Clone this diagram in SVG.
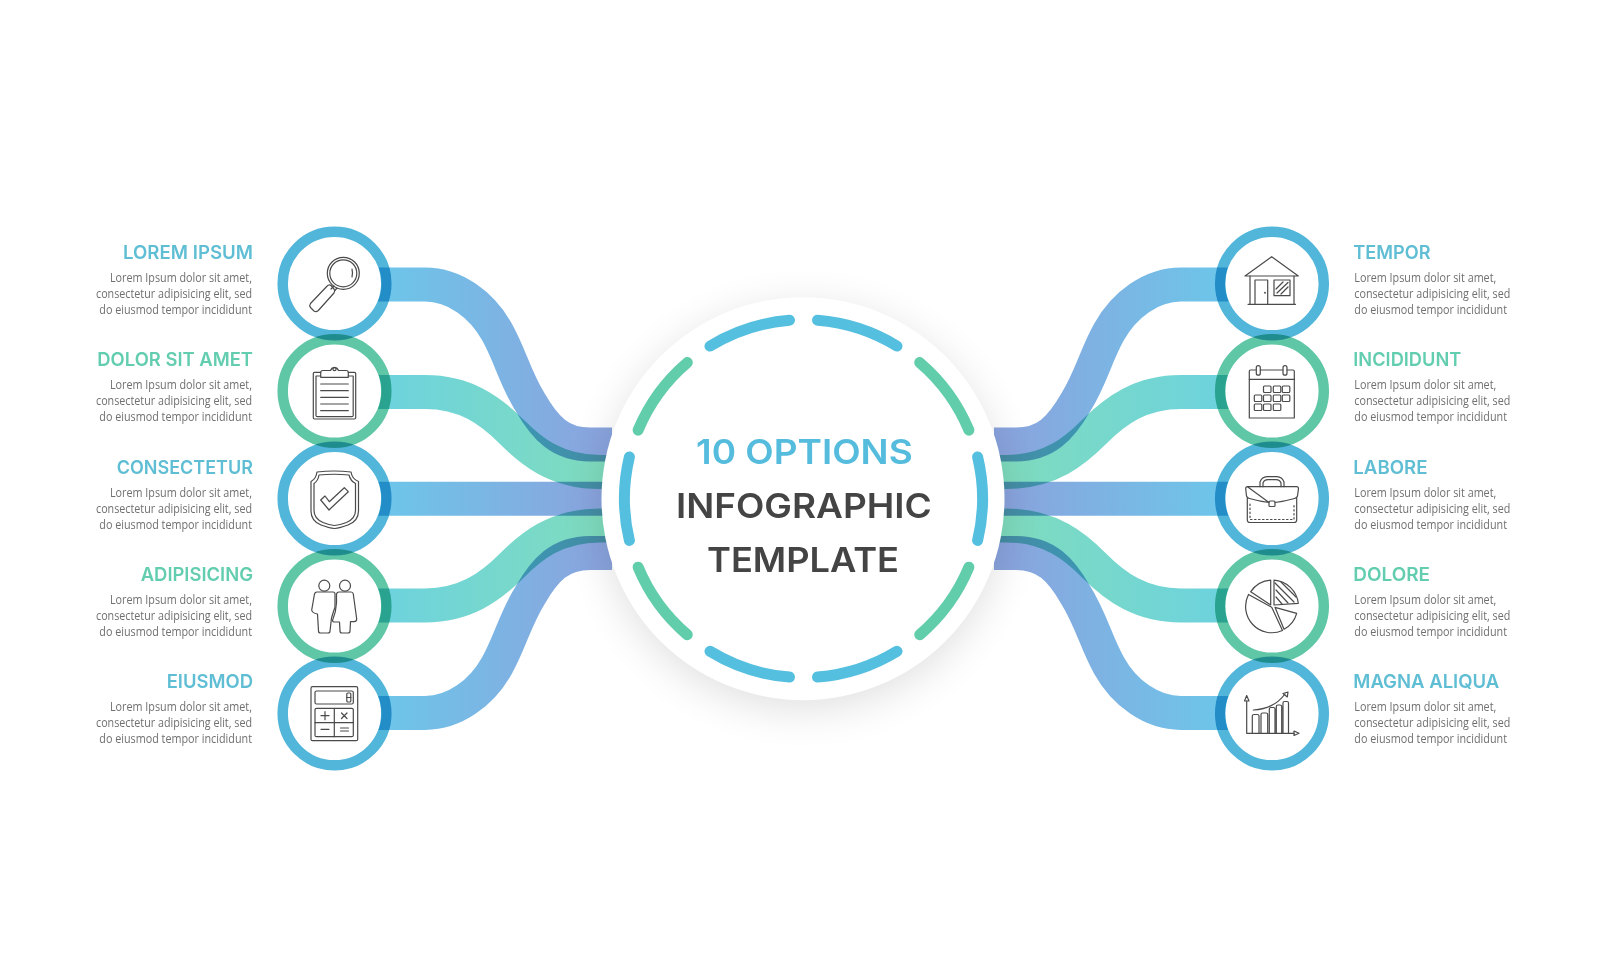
<svg xmlns="http://www.w3.org/2000/svg" width="1604" height="980" viewBox="0 0 1604 980">
<style>
.band{fill:none;stroke-width:34;mix-blend-mode:multiply}
.disc{fill:#fff}
.rb{fill:none;stroke:#52b6da;stroke-width:10.5;mix-blend-mode:multiply}
.rg{fill:none;stroke:#5fc6a6;stroke-width:10.5;mix-blend-mode:multiply}
.ic{fill:none;stroke:#4a4a4a;stroke-width:1.2;stroke-linejoin:round;stroke-linecap:round}
.seg{fill:none;stroke-width:11;stroke-linecap:round}
.tb{font:600 19px Inter,"Liberation Sans",sans-serif;fill:#5fbed4}
.tg{font:600 19px Inter,"Liberation Sans",sans-serif;fill:#63cdb0}
.bd{font:12px "Open Sans","Liberation Sans",sans-serif;fill:#6f6f6f}
.c{font:600 34.4px Inter,"Liberation Sans",sans-serif}
.e{text-anchor:end}
</style>
<defs>
<linearGradient id="gb" gradientUnits="userSpaceOnUse" x1="380" y1="0" x2="600" y2="0"><stop offset="0" stop-color="#6cc6ea"/><stop offset="1" stop-color="#8aa4de"/></linearGradient>
<linearGradient id="gg" gradientUnits="userSpaceOnUse" x1="380" y1="0" x2="600" y2="0"><stop offset="0" stop-color="#6dd2de"/><stop offset="1" stop-color="#7fdcbe"/></linearGradient>
<filter id="sh" x="-30%" y="-30%" width="160%" height="160%"><feGaussianBlur stdDeviation="22"/></filter>
<g id="upper">
<path class="band" stroke="url(#gb)" d="M372 284.5H425C455 284.5 482 305 497 332C510 355 515 378 530 402C545 428 560 444.5 590 444.5H612"/>
<path class="band" stroke="url(#gg)" d="M372 392H425C465 392 490 410 512 432C530 450 555 472 600 472H612"/>
</g>
<g id="bands">
<use href="#upper"/>
<path class="band" stroke="url(#gb)" d="M372 498.7H612"/>
<use href="#upper" transform="matrix(1 0 0 -1 0 997.4)"/>
</g>
</defs>
<rect width="1604" height="980" fill="#fff"/>
<g id="connectors">
<use href="#bands"/>
<use href="#bands" transform="matrix(-1 0 0 1 1606 0)"/>
</g>
<g id="center">
<circle cx="803" cy="508" r="200" fill="#000" opacity=".13" filter="url(#sh)"/>
<circle cx="803" cy="498.7" r="201.5" fill="#fff"/>
<g class="seg" stroke="#55bfdf">
<path d="M817.5 320.3A179 179 0 0 1 897 346.1"/>
<path d="M977.6 456.9A179 179 0 0 1 977.6 540.5"/>
<path d="M897 651.3A179 179 0 0 1 817.5 677.1"/>
<path d="M789.5 677.1A179 179 0 0 1 710 651.3"/>
<path d="M629.4 540.5A179 179 0 0 1 629.4 456.9"/>
<path d="M710 346.1A179 179 0 0 1 789.5 320.3"/>
</g>
<g class="seg" stroke="#62cdab">
<path d="M919.7 362.6A179 179 0 0 1 968.9 430.2"/>
<path d="M968.9 567.2A179 179 0 0 1 919.7 634.8"/>
<path d="M687.3 634.8A179 179 0 0 1 638.1 567.2"/>
<path d="M638.1 430.2A179 179 0 0 1 687.3 362.6"/>
</g>
<text class="c" x="696" y="464" fill="#55bcdd" textLength="216.7" lengthAdjust="spacingAndGlyphs">10 OPTIONS</text>
<text class="c" x="676" y="518.3" fill="#444" textLength="255.7" lengthAdjust="spacingAndGlyphs">INFOGRAPHIC</text>
<text class="c" x="707" y="572.3" fill="#444" textLength="192" lengthAdjust="spacingAndGlyphs">TEMPLATE</text>
</g>
<g id="node-lorem-ipsum">
<circle class="disc" cx="334.5" cy="283.5" r="47"/><circle class="rb" cx="334.5" cy="283.5" r="51.8"/>
<g class="ic"><circle cx="343.3" cy="273.3" r="16"/><circle cx="343.3" cy="273.3" r="13.5"/><path d="M352 269Q353 273 352 277"/><path d="M334 286L331 289M337 288L334.5 291M326.7 286.5Q329 284 331 285.5L334 289Q335.5 291 334 293L318.3 310.5Q316 312.5 314 311L310.5 307.5Q309 305.5 310.5 303.5Z"/></g>
<text class="tb e" x="253" y="258.8" textLength="130" lengthAdjust="spacingAndGlyphs">LOREM IPSUM</text>
<text class="bd e" x="252" y="281.7" textLength="142" lengthAdjust="spacingAndGlyphs">Lorem Ipsum dolor sit amet,</text>
<text class="bd e" x="252" y="297.7" textLength="156" lengthAdjust="spacingAndGlyphs">consectetur adipisicing elit, sed</text>
<text class="bd e" x="252" y="313.7" textLength="152.7" lengthAdjust="spacingAndGlyphs">do eiusmod tempor incididunt</text>
</g>
<g id="node-dolor-sit-amet">
<circle class="disc" cx="334.5" cy="391" r="47"/><circle class="rg" cx="334.5" cy="391" r="51.8"/>
<g class="ic"><path d="M320.7 372.3H314.5Q313.3 372.3 313.3 373.5V417.8Q313.3 419 314.5 419H354.5Q355.7 419 355.7 417.8V373.5Q355.7 372.3 354.5 372.3H348.3"/><path d="M320.7 376H316V415.5Q316 416.7 317.2 416.7H352Q353.2 416.7 353.2 415.5V376H348.3"/><path d="M320.7 377.3V372.5Q320.7 370.5 322.7 370.5H330.5A4.2 4.2 0 0 1 338.5 370.5H346.3Q348.3 370.5 348.3 372.5V377.3Z"/><circle cx="334.5" cy="369" r="1.6"/><path d="M320.7 384H348.3M320.7 390.7H348.3M320.7 397.3H348.3M320.7 404H348.3M320.7 410.7H348.3"/></g>
<text class="tg e" x="253" y="366.2" textLength="155.7" lengthAdjust="spacingAndGlyphs">DOLOR SIT AMET</text>
<text class="bd e" x="252" y="389.1" textLength="142" lengthAdjust="spacingAndGlyphs">Lorem Ipsum dolor sit amet,</text>
<text class="bd e" x="252" y="405.1" textLength="156" lengthAdjust="spacingAndGlyphs">consectetur adipisicing elit, sed</text>
<text class="bd e" x="252" y="421.1" textLength="152.7" lengthAdjust="spacingAndGlyphs">do eiusmod tempor incididunt</text>
</g>
<g id="node-consectetur">
<circle class="disc" cx="334.5" cy="498.5" r="47"/><circle class="rb" cx="334.5" cy="498.5" r="51.8"/>
<g class="ic"><path d="M317 472Q334 470 351 472Q352 479 358.5 481.5V511Q358.5 521 348 525Q340 528 334.5 528.5Q329 528 321 525Q311 521 311 511V481.5Q316 479 317 472Z"/><path d="M319 475Q334 473.5 349 475Q350.5 481 355.5 483.5V510.5Q355.5 518.5 346.5 522.5Q340 525 334.5 525.5Q329 525 323 522.5Q314 518.5 314 510.5V483.5Q318 481 319 475Z"/><path d="M320.7 500L329 510L348.3 491.7L344.3 487.7L329.3 501.7L325 496Z"/></g>
<text class="tb e" x="253" y="473.6" textLength="136.3" lengthAdjust="spacingAndGlyphs">CONSECTETUR</text>
<text class="bd e" x="252" y="496.5" textLength="142" lengthAdjust="spacingAndGlyphs">Lorem Ipsum dolor sit amet,</text>
<text class="bd e" x="252" y="512.5" textLength="156" lengthAdjust="spacingAndGlyphs">consectetur adipisicing elit, sed</text>
<text class="bd e" x="252" y="528.5" textLength="152.7" lengthAdjust="spacingAndGlyphs">do eiusmod tempor incididunt</text>
</g>
<g id="node-adipisicing">
<circle class="disc" cx="334.5" cy="606" r="47"/><circle class="rg" cx="334.5" cy="606" r="51.8"/>
<g class="ic"><circle cx="324.3" cy="585.7" r="5.5"/><circle cx="345" cy="585.7" r="5.5"/><path d="M317 592H333Q335 592 335 594V607Q333 613 331.5 618L330 631Q330 633 328 633H320.5Q318.5 633 318.5 631L317.5 614Q312 613 311.7 610L314.5 594Q315 592 317 592Z"/><path d="M339 592H351Q353 592 353.3 594L356.7 619Q356.7 621.7 354 621.7L350.5 621.7L350 631Q350 633 348 633H342Q340 633 340 631L339.5 622H334Q332 621.7 332.8 619.5Q336 612 336.5 603V594Q337 592 339 592Z"/></g>
<text class="tg e" x="253" y="581" textLength="112.3" lengthAdjust="spacingAndGlyphs">ADIPISICING</text>
<text class="bd e" x="252" y="603.9" textLength="142" lengthAdjust="spacingAndGlyphs">Lorem Ipsum dolor sit amet,</text>
<text class="bd e" x="252" y="619.9" textLength="156" lengthAdjust="spacingAndGlyphs">consectetur adipisicing elit, sed</text>
<text class="bd e" x="252" y="635.9" textLength="152.7" lengthAdjust="spacingAndGlyphs">do eiusmod tempor incididunt</text>
</g>
<g id="node-eiusmod">
<circle class="disc" cx="334.5" cy="713.5" r="47"/><circle class="rb" cx="334.5" cy="713.5" r="51.8"/>
<g class="ic"><rect x="311" y="686.7" width="46.7" height="54" rx="1.5"/><rect x="315" y="691" width="38.3" height="13" rx="1.5"/><rect x="346.8" y="693" width="4" height="9" rx="1"/><path d="M346.8 697.5H350.8"/><rect x="315" y="708.3" width="38.3" height="28.4" rx="1.5"/><path d="M334.3 708.3V736.7M315 722.7H353.3M321 715.7H329M325 711.7V719.7M341.5 713L347 718.5M347 713L341.5 718.5M321 729.3H329M340.5 728H348.5M340.5 731H348.5"/></g>
<text class="tb e" x="253" y="688.4" textLength="86.3" lengthAdjust="spacingAndGlyphs">EIUSMOD</text>
<text class="bd e" x="252" y="711.3" textLength="142" lengthAdjust="spacingAndGlyphs">Lorem Ipsum dolor sit amet,</text>
<text class="bd e" x="252" y="727.3" textLength="156" lengthAdjust="spacingAndGlyphs">consectetur adipisicing elit, sed</text>
<text class="bd e" x="252" y="743.3" textLength="152.7" lengthAdjust="spacingAndGlyphs">do eiusmod tempor incididunt</text>
</g>
<g id="node-tempor">
<circle class="disc" cx="1272" cy="283.5" r="47"/><circle class="rb" cx="1272" cy="283.5" r="51.8"/>
<g class="ic"><path d="M1245 276L1271.7 256.7L1298.3 276Z"/><path d="M1250 276V304.3M1294 276V304.3M1248 304.3H1295.5"/><path d="M1255 304.3V280H1267.7V304.3"/><circle cx="1265" cy="292.7" r=".4"/><rect x="1274" y="280" width="16" height="15.7"/><path d="M1276 289L1283 282M1277 293L1288 282.5M1281 294L1288 287"/></g>
<text class="tb" x="1353.3" y="258.8" textLength="77.3" lengthAdjust="spacingAndGlyphs">TEMPOR</text>
<text class="bd" x="1354.3" y="281.7" textLength="142" lengthAdjust="spacingAndGlyphs">Lorem Ipsum dolor sit amet,</text>
<text class="bd" x="1354.3" y="297.7" textLength="156" lengthAdjust="spacingAndGlyphs">consectetur adipisicing elit, sed</text>
<text class="bd" x="1354.3" y="313.7" textLength="152.7" lengthAdjust="spacingAndGlyphs">do eiusmod tempor incididunt</text>
</g>
<g id="node-incididunt">
<circle class="disc" cx="1272" cy="391" r="47"/><circle class="rg" cx="1272" cy="391" r="51.8"/>
<g class="ic"><path d="M1256.3 370H1250.5Q1249.3 370 1249.3 371.2V418H1294.3V371.2Q1294.3 370 1293 370H1287M1260.3 370H1283"/><path d="M1249.3 379.3H1294.3"/><rect x="1256.3" y="365.7" width="4" height="9.5" rx="2"/><rect x="1283" y="365.7" width="4" height="9.5" rx="2"/><rect x="1263.5" y="386" width="7.5" height="6.5" rx="1"/><rect x="1273.3" y="386" width="7.5" height="6.5" rx="1"/><rect x="1282.3" y="386" width="7.5" height="6.5" rx="1"/><rect x="1254.3" y="395" width="7.5" height="6.5" rx="1"/><rect x="1263.5" y="395" width="7.5" height="6.5" rx="1"/><rect x="1273.3" y="395" width="7.5" height="6.5" rx="1"/><rect x="1282.3" y="395" width="7.5" height="6.5" rx="1"/><rect x="1254.3" y="404" width="7.5" height="6.5" rx="1"/><rect x="1263.5" y="404" width="7.5" height="6.5" rx="1"/><rect x="1273.3" y="404" width="7.5" height="6.5" rx="1"/></g>
<text class="tg" x="1353.3" y="366.2" textLength="108" lengthAdjust="spacingAndGlyphs">INCIDIDUNT</text>
<text class="bd" x="1354.3" y="389.1" textLength="142" lengthAdjust="spacingAndGlyphs">Lorem Ipsum dolor sit amet,</text>
<text class="bd" x="1354.3" y="405.1" textLength="156" lengthAdjust="spacingAndGlyphs">consectetur adipisicing elit, sed</text>
<text class="bd" x="1354.3" y="421.1" textLength="152.7" lengthAdjust="spacingAndGlyphs">do eiusmod tempor incididunt</text>
</g>
<g id="node-labore">
<circle class="disc" cx="1272" cy="498.5" r="47"/><circle class="rb" cx="1272" cy="498.5" r="51.8"/>
<g class="ic"><path d="M1260 486.7V482Q1262 477 1267 476.7H1277Q1282 477 1284 482V486.7M1263 486.7V483Q1264 480 1268 479.7H1276Q1280 480 1281 483V486.7"/><path d="M1247.5 486.7H1296.5Q1298.5 486.7 1298.5 488.7L1297.5 496Q1297 498 1294.5 498.5Q1284 501.5 1275 502.5M1269 502.5Q1260 501.5 1249.5 498.5Q1247 498 1246.5 496L1245.7 488.7Q1245.7 486.7 1247.5 486.7Z"/><path d="M1247.3 498V520Q1247.3 522.5 1250 522.5H1294Q1296.7 522.5 1296.7 520V498"/><rect x="1269" y="501" width="6" height="5.5" rx="1"/><path d="M1250 504V519.5H1294V504" stroke-dasharray="1.5 2.5"/></g>
<text class="tb" x="1353.3" y="473.6" textLength="74.3" lengthAdjust="spacingAndGlyphs">LABORE</text>
<text class="bd" x="1354.3" y="496.5" textLength="142" lengthAdjust="spacingAndGlyphs">Lorem Ipsum dolor sit amet,</text>
<text class="bd" x="1354.3" y="512.5" textLength="156" lengthAdjust="spacingAndGlyphs">consectetur adipisicing elit, sed</text>
<text class="bd" x="1354.3" y="528.5" textLength="152.7" lengthAdjust="spacingAndGlyphs">do eiusmod tempor incididunt</text>
</g>
<g id="node-dolore">
<circle class="disc" cx="1272" cy="606" r="47"/><circle class="rg" cx="1272" cy="606" r="51.8"/>
<g class="ic"><path d="M1270.7 580.1V605L1250.7 591.7A26.3 26.3 0 0 1 1270.7 580.1Z"/><path d="M1248.5 594.4L1271.7 607.3L1282.5 630.5A26.3 26.3 0 0 1 1248.5 594.4Z"/><path d="M1274 580.1A26.3 26.3 0 0 1 1298.3 603.3L1274 605Z"/><path d="M1275 607.3L1296.7 613.3A26.3 26.3 0 0 1 1284 629.3Z"/><path d="M1275 583L1294 602M1281 582L1296 597M1276 590L1288 603M1276 597L1282 604"/></g>
<text class="tg" x="1353.3" y="581" textLength="76.7" lengthAdjust="spacingAndGlyphs">DOLORE</text>
<text class="bd" x="1354.3" y="603.9" textLength="142" lengthAdjust="spacingAndGlyphs">Lorem Ipsum dolor sit amet,</text>
<text class="bd" x="1354.3" y="619.9" textLength="156" lengthAdjust="spacingAndGlyphs">consectetur adipisicing elit, sed</text>
<text class="bd" x="1354.3" y="635.9" textLength="152.7" lengthAdjust="spacingAndGlyphs">do eiusmod tempor incididunt</text>
</g>
<g id="node-magna-aliqua">
<circle class="disc" cx="1272" cy="713.5" r="47"/><circle class="rb" cx="1272" cy="713.5" r="51.8"/>
<g class="ic"><path d="M1246.7 701V733.3H1294"/><path d="M1244.5 701H1249L1246.7 695.5Z"/><path d="M1294 731L1299 733.3L1294 735.5Z"/><path d="M1252.3 733.3V716Q1252.3 714.5 1254 714.5H1257.3Q1259 714.5 1259 716V733.3M1261 733.3V714.5Q1261 713 1262.7 713H1266Q1267.7 713 1267.7 714.5V733.3M1269.3 733.3V709Q1269.3 707.5 1271 707.5H1273.5Q1275 707.5 1275 709V733.3M1276.3 733.3V706.5Q1276.3 705 1278 705H1280Q1281.7 705 1281.7 706.5V733.3M1283 733.3V703Q1283 701.5 1284.5 701.5H1287Q1288.5 701.5 1288.5 703V733.3"/><path d="M1253.3 710Q1274 709 1285 694"/><path d="M1283 693.5L1288 692L1287.3 697Z"/></g>
<text class="tb" x="1353.3" y="688.4" textLength="146" lengthAdjust="spacingAndGlyphs">MAGNA ALIQUA</text>
<text class="bd" x="1354.3" y="711.3" textLength="142" lengthAdjust="spacingAndGlyphs">Lorem Ipsum dolor sit amet,</text>
<text class="bd" x="1354.3" y="727.3" textLength="156" lengthAdjust="spacingAndGlyphs">consectetur adipisicing elit, sed</text>
<text class="bd" x="1354.3" y="743.3" textLength="152.7" lengthAdjust="spacingAndGlyphs">do eiusmod tempor incididunt</text>
</g>
</svg>
